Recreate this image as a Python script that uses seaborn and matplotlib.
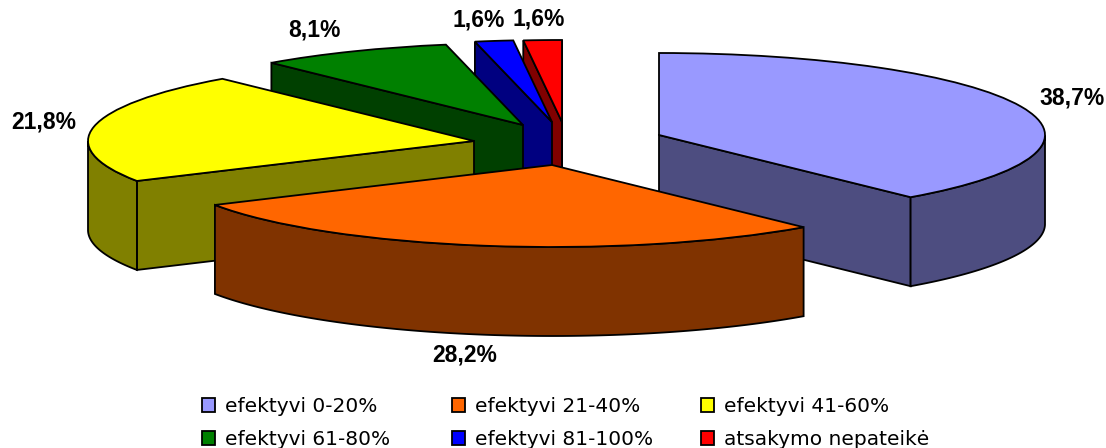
import numpy as np
import seaborn as sns
from matplotlib import pyplot as plt

sns.set_theme(style='white')
plt.rcParams['font.family'] = ['Liberation Sans', 'DejaVu Sans']

# data
categories = ['efektyvi 0-20%', 'efektyvi 21-40%', 'efektyvi 41-60%',
              'efektyvi 61-80%', 'efektyvi 81-100%', 'atsakymo nepateikė']
shares = [38.7, 28.2, 21.8, 8.1, 1.6, 1.6]
value_labels = ['38,7%', '28,2%', '21,8%', '8,1%', '1,6%', '1,6%']
slice_colors = ['#9999FF', '#FF6600', '#FFFF00', '#008000', '#0000FF', '#FF0000']

# layout in picture pixels
W, H = 1106, 448
RX, RY, DEPTH = 386, 82, 89
apex = [(659, 135), (552, 165), (474, 141), (523, 125), (552, 122), (562, 122)]
label_pos = [(1072, 98), (465, 355), (44, 122), (314, 30), (479, 20), (539, 19)]
paint_order = [5, 4, 3, 2, 0, 1]   # back to front
legend_x = [202, 452, 701]


def px(x, y):
    return x / RX, (H - y) / RY


palette = sns.color_palette(slice_colors)
side_colors = [tuple(c / 2 for c in col) for col in palette]

fig = plt.figure(figsize=(W / 100, H / 100), dpi=100)
ax = fig.add_axes([0, 0, 1, 1])
wedges, _ = ax.pie(shares, colors=palette, startangle=90, counterclock=False,
                   wedgeprops={'edgecolor': 'black', 'linewidth': 1.3})
ax.set_aspect('auto')
ax.set_xlim(0, W / RX)
ax.set_ylim(0, H / RY)
ax.axis('off')

d = DEPTH / RY
for z, i in enumerate(paint_order):
    w = wedges[i]
    cx, cy = px(*apex[i])
    w.set_center((cx, cy))
    w.set_zorder(3 * z + 3)
    style = dict(facecolor=side_colors[i], edgecolor='black', linewidth=1.3, zorder=3 * z + 2)

    # the cut faces that look towards the viewer
    for t, visible in [(w.theta2, np.cos(np.radians(w.theta2)) < 0),
                       (w.theta1, np.cos(np.radians(w.theta1)) > 0)]:
        if visible:
            ex = cx + np.cos(np.radians(t))
            ey = cy + np.sin(np.radians(t))
            ax.fill([cx, ex, ex, cx], [cy, ey, ey - d, cy - d], **style)

    # rim, only the front half of the ellipse
    t = np.radians(np.linspace(w.theta1, w.theta2, 300))
    t = t[np.sin(t) <= 0]
    if len(t) > 1:
        rim_x = cx + np.cos(t)
        rim_y = cy + np.sin(t)
        ax.fill(np.r_[rim_x, rim_x[::-1]], np.r_[rim_y, rim_y[::-1] - d], **style)

for txt, (x, y) in zip(value_labels, label_pos):
    tx, ty = px(x, y)
    ax.text(tx, ty, txt, ha='center', va='center', fontsize=16.5, fontweight='bold',
            color='black', zorder=40)

# one legend per column, the columns of the original are evenly spaced
for col, x0 in enumerate(legend_x):
    idx = [col, col + 3]
    leg = ax.legend([wedges[i] for i in idx], [categories[i] for i in idx],
                    loc='lower left', bbox_to_anchor=(x0 / W, -1 / H),
                    bbox_transform=fig.transFigure, frameon=False, borderpad=0,
                    borderaxespad=0, handlelength=0.66, handleheight=0.66, handletextpad=0.5,
                    labelspacing=0.7, labelcolor='black',
                    prop={'family': 'DejaVu Sans', 'size': 14.5})
    if col < len(legend_x) - 1:
        ax.add_artist(leg)

fig.savefig('out.png', dpi=100, facecolor='white')
